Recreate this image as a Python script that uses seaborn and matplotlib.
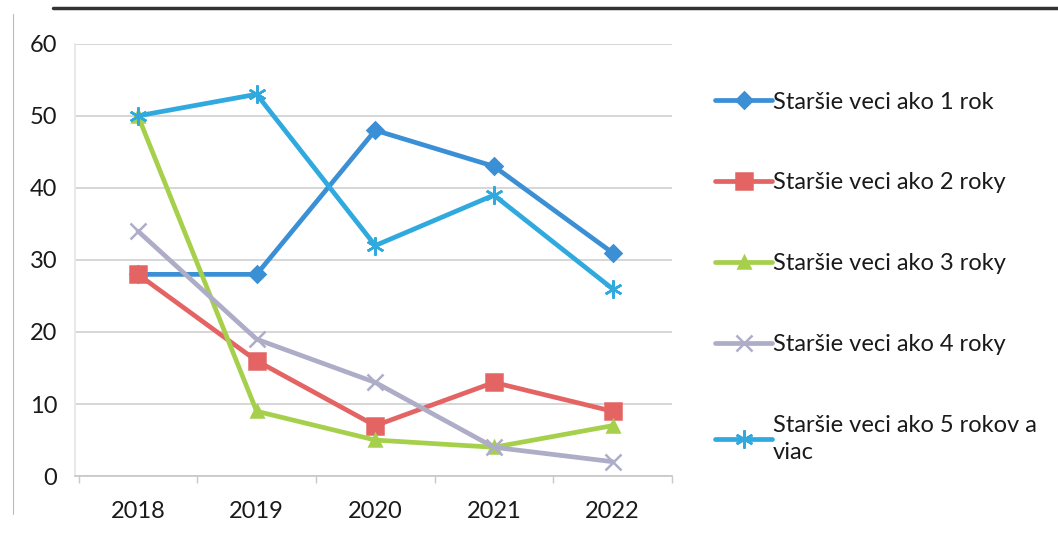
import pandas as pd
import numpy as np
import seaborn as sns
import matplotlib.pyplot as plt
from matplotlib.lines import Line2D

years = ["2018", "2019", "2020", "2021", "2022"]
series_names = [
    "Staršie veci ako 1 rok",
    "Staršie veci ako 2 roky",
    "Staršie veci ako 3 roky",
    "Staršie veci ako 4 roky",
    "Staršie veci ako 5 rokov a\nviac",
]
vals_1 = [28, 28, 48, 43, 31]
vals_2 = [28, 16, 7, 13, 9]
vals_3 = [50, 9, 5, 4, 7]
vals_4 = [34, 19, 13, 4, 2]
vals_5 = [50, 53, 32, 39, 26]

colors = ["#3b8fd4", "#e46464", "#a6d04c", "#aeadc8", "#2fa9de"]
markers = ["D", "s", "^", "x", (6, 2, 0)]
msizes = [8, 11, 9, 11, 13]

sns.set_theme(style="white")
plt.rcParams["font.family"] = ["Lato", "DejaVu Sans"]

fig = plt.figure(figsize=(10.58, 5.41), dpi=100)
ax = fig.add_axes([0.071, 0.12, 0.564, 0.799])

all_vals = [vals_1, vals_2, vals_3, vals_4, vals_5]
handles = []
for name, v, c, m, ms in zip(series_names, all_vals, colors, markers, msizes):
    df = pd.DataFrame({"x": np.arange(len(years)), "y": v})
    sns.lineplot(data=df, x="x", y="y", ax=ax, color=c, linewidth=3.4,
                 marker=m, markersize=ms, markeredgecolor=c, markeredgewidth=1.8)
    handles.append(Line2D([0], [0], color=c, linewidth=3.4, marker=m,
                          markersize=ms, markeredgecolor=c, markeredgewidth=1.8))

ax.set_xlim(-0.53, 4.5)
ax.set_ylim(0, 60)
ax.set_yticks(range(0, 61, 10))
ax.set_xticks(range(len(years)))
ax.set_xticklabels(years)
ax.set_xticks(np.arange(-0.5, 4.6, 1), minor=True)
ax.tick_params(axis="x", which="major", length=0, pad=18, labelsize=17, labelcolor="#1a1a1a")
ax.tick_params(axis="x", which="minor", length=5, color="#c8c8c8", direction="out", bottom=True)
ax.tick_params(axis="y", length=0, pad=13, labelsize=17, labelcolor="#1a1a1a")
ax.set_xlabel("")
ax.set_ylabel("")
ax.yaxis.grid(True, color="#d0d0d0", linewidth=1.2)
ax.set_axisbelow(True)
for s in ["top", "right"]:
    ax.spines[s].set_visible(False)
ax.spines["bottom"].set_color("#c8c8c8")
ax.spines["left"].set_color("#e6e6e6")

leg = fig.legend(handles, series_names, loc="upper left", bbox_to_anchor=(0.656, 0.87),
                 frameon=False, fontsize=17, handlelength=2.4, handletextpad=0.05,
                 labelspacing=2.53)
for t in leg.get_texts():
    t.set_color("#1a1a1a")
    t.set_linespacing(1.4)

# scanned page border at the top
fig.add_artist(Line2D([0.05, 1.0], [0.985, 0.985], color="#333333", linewidth=2.5,
                      transform=fig.transFigure))
fig.add_artist(Line2D([0.012, 0.012], [0.05, 0.975], color="#bbbbbb", linewidth=0.8,
                      transform=fig.transFigure))

fig.savefig("out.png", dpi=100)
